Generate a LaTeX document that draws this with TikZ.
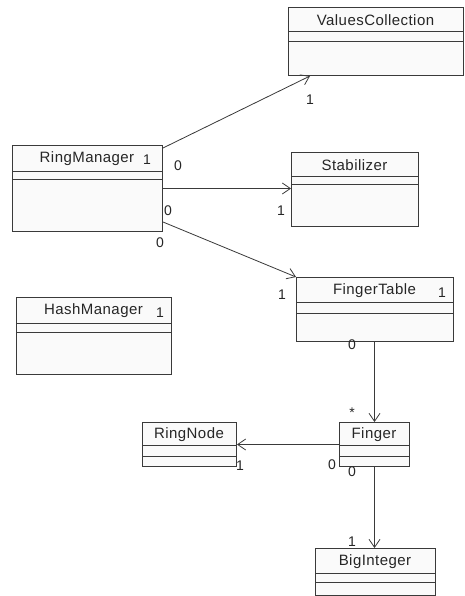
\documentclass[tikz,border=0pt]{standalone}
\usepackage{fontspec}
\setmainfont[LetterSpace=3]{Liberation Sans}
\usetikzlibrary{arrows.meta,calc}
\definecolor{ln}{HTML}{3A3A3A}
\definecolor{bx}{HTML}{FAFAFA}
\tikzset{
  cls/.style={draw=ln, fill=bx, line width=1pt, rectangle, inner sep=0pt, anchor=north west},
  cname/.style={font=\fontsize{15}{15}\selectfont, text=black!85, inner sep=0pt},
  mult/.style={font=\fontsize{14}{14}\selectfont, text=black!85, inner sep=0pt},
  assoc/.style={draw=ln, line width=0.8pt, -{Straight Barb[length=8pt,width=11pt,line width=0.8pt]}},
  divl/.style={draw=ln, line width=1pt}
}
% class box: name, x1, y1, x2, y2, d1, d2, title
\newcommand{\umlbox}[8]{%
  \node[cls, minimum width={#4-#2}, minimum height={#5-#3}] (#1) at (#2,#3) {};
  \draw[divl] (#2,#6) -- (#4,#6);
  \draw[divl] (#2,#7) -- (#4,#7);
  \node[cname] (#1-t) at ({(#2+#4)/2},{(#3+#6)/2+1}) {#8};
}
\begin{document}
\begin{tikzpicture}[x=1pt,y=-1pt]
\useasboundingbox[fill=white] (0,0) rectangle (465,596);
\umlbox{vc}{288}{7}{463}{75}{32}{42}{ValuesCollection}
\umlbox{stab}{291}{152}{418}{226}{176}{184}{Stabilizer}
\umlbox{rm}{12}{145}{162}{231}{171}{179}{RingManager}
\umlbox{ft}{296}{277}{453}{341}{302}{313}{FingerTable}
\umlbox{hm}{16}{297}{171}{374}{323}{332}{HashManager}
\umlbox{rn}{142}{422}{236}{466}{445}{456}{RingNode}
\umlbox{fi}{339}{422}{409}{466}{445}{456}{Finger}
\umlbox{bi}{315}{548}{435}{595}{573}{582}{BigInteger}

% connectors
\draw[assoc] ($(rm.north east)+(0,3)$) -- ($(vc.south west)+(22,0)$);
\draw[assoc] (rm.east) -- (rm.east -| stab.west);
\draw[assoc] ($(rm.south east)+(0,-10)$) -- (ft.north west);
\draw[assoc] (ft.south -| fi.north) -- (fi.north);
\draw[assoc] (fi.west) -- (fi.west -| rn.east);
\draw[assoc] (fi.south) -- (fi.south |- bi.north);

% multiplicities
\node[mult] (m1) at (310,100) {1};
\node[mult] (m2) at (178,166) {0};
\node[mult] (m3) at (147,160) {1};
\node[mult] (m4) at (281,211) {1};
\node[mult] (m5) at (168,211) {0};
\node[mult] (m6) at (160,243) {0};
\node[mult] (m7) at (282,295) {1};
\node[mult] (m8) at (442,293) {1};
\node[mult] (m9) at (352,345) {0};
\node[mult] (m10) at (352,413) {*};
\node[mult] (m11) at (332,465) {0};
\node[mult] (m12) at (352,472) {0};
\node[mult] (m13) at (240,466) {1};
\node[mult] (m14) at (352,542) {1};
\node[mult] (m15) at (160,313) {1};
\end{tikzpicture}
\end{document}
